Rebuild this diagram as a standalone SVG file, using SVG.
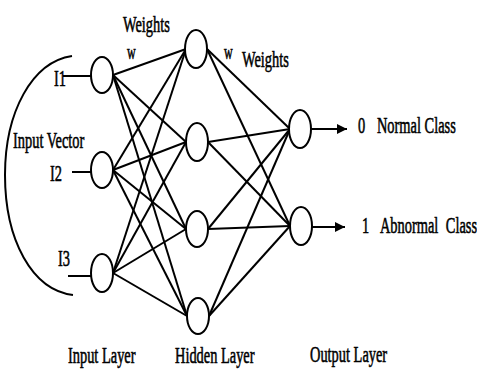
<svg xmlns="http://www.w3.org/2000/svg" width="477" height="369" viewBox="0 0 477 369">
<defs>
<style>
.node{fill:#fff;stroke:#000;stroke-width:2}
.edge{stroke:#000;stroke-width:2;fill:none}
.lbl{font-family:"Liberation Serif","Times New Roman",serif;font-size:24px;fill:#000;stroke:#000;stroke-width:0.6}
.sm{font-family:"Liberation Serif","Times New Roman",serif;font-size:20px;fill:#000;stroke:#000;stroke-width:0.6}
</style>
<marker id="ah" viewBox="0 0 10 10" refX="10" refY="5" markerWidth="5" markerHeight="5" orient="auto" markerUnits="strokeWidth">
<path d="M0,0 L10,5 L0,10 z" fill="#000"/>
</marker>
</defs>
<rect width="477" height="369" fill="#fff"/>
<g id="connectors">
<path class="edge" d="M5,175 C5,112 32,62 72,56"/>
<path class="edge" d="M5,175 C5,240 32,290 73,295"/>
<line class="edge" x1="63" y1="76" x2="91" y2="76" stroke-width="3"/>
<line class="edge" x1="72" y1="172" x2="91" y2="172"/>
<line class="edge" x1="68" y1="276" x2="91" y2="276"/>
<g>
<line class="edge" x1="113" y1="75" x2="186" y2="49"/>
<line class="edge" x1="113" y1="75" x2="186" y2="142"/>
<line class="edge" x1="113" y1="75" x2="186" y2="229"/>
<line class="edge" x1="113" y1="75" x2="187" y2="316"/>
<line class="edge" x1="113" y1="170" x2="186" y2="49"/>
<line class="edge" x1="113" y1="170" x2="186" y2="142"/>
<line class="edge" x1="113" y1="170" x2="186" y2="229"/>
<line class="edge" x1="113" y1="170" x2="187" y2="316"/>
<line class="edge" x1="113" y1="273" x2="186" y2="49"/>
<line class="edge" x1="113" y1="273" x2="186" y2="142"/>
<line class="edge" x1="113" y1="273" x2="186" y2="229"/>
<line class="edge" x1="113" y1="273" x2="187" y2="316"/>
</g>
<g>
<line class="edge" x1="207" y1="49" x2="290" y2="129"/>
<line class="edge" x1="207" y1="49" x2="290" y2="226"/>
<line class="edge" x1="208" y1="142" x2="290" y2="129"/>
<line class="edge" x1="208" y1="142" x2="290" y2="226"/>
<line class="edge" x1="208" y1="229" x2="290" y2="129"/>
<line class="edge" x1="208" y1="229" x2="290" y2="226"/>
<line class="edge" x1="209" y1="316" x2="290" y2="129"/>
<line class="edge" x1="209" y1="316" x2="290" y2="226"/>
</g>
<line class="edge" x1="311" y1="129" x2="347" y2="129" marker-end="url(#ah)"/>
<line class="edge" x1="312" y1="227" x2="345" y2="227" marker-end="url(#ah)"/>
</g>
<g id="I1"><ellipse class="node" cx="102" cy="75" rx="11" ry="18"/></g>
<g id="I2"><ellipse class="node" cx="102" cy="170" rx="11" ry="18"/></g>
<g id="I3"><ellipse class="node" cx="102" cy="273" rx="11" ry="19"/></g>
<g id="H1"><ellipse class="node" cx="196" cy="49" rx="11" ry="19"/></g>
<g id="H2"><ellipse class="node" cx="197" cy="142" rx="11" ry="19"/></g>
<g id="H3"><ellipse class="node" cx="197" cy="229" rx="11" ry="18"/></g>
<g id="H4"><ellipse class="node" cx="198" cy="316" rx="11" ry="18"/></g>
<g id="O1"><ellipse class="node" cx="300" cy="129" rx="11" ry="19"/></g>
<g id="O2"><ellipse class="node" cx="301" cy="226" rx="11" ry="19"/></g>
<g id="labels" transform="scale(0.6,1)">
<text class="lbl" x="205" y="32">Weights</text>
<text class="sm" x="211.7" y="59">w</text>
<text class="sm" x="373.3" y="59">w</text>
<text class="lbl" x="403.3" y="67">Weights</text>
<text class="lbl" x="21.7" y="148">Input Vector</text>
<text class="lbl" x="90" y="86">I1</text>
<text class="lbl" x="83.3" y="181">I2</text>
<text class="lbl" x="96.7" y="266">I3</text>
<text class="lbl" x="596.7" y="133">0</text>
<text class="lbl" x="628.3" y="133">Normal Class</text>
<text class="lbl" x="603.3" y="233">1</text>
<text class="lbl" x="633.3" y="233">Abnormal</text>
<text class="lbl" x="743" y="233">Class</text>
<text class="lbl" x="113.3" y="363">Input Layer</text>
<text class="lbl" x="291.7" y="363">Hidden Layer</text>
<text class="lbl" x="516.7" y="362">Output Layer</text>
</g>
</svg>
